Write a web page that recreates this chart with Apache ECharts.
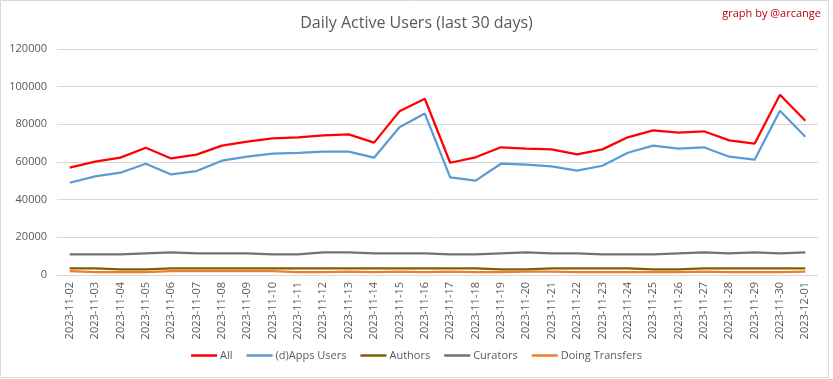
<!DOCTYPE html>
<html>
<head>
<meta charset="utf-8">
<script src="https://cdn.jsdelivr.net/npm/echarts@6/dist/echarts.min.js"></script>
<style>
html,body{margin:0;padding:0;background:#fff;}
#c{width:833px;height:379px;}
</style>
</head>
<body>
<div id="c"></div>
<script>
const categories = ["2023-11-02","2023-11-03","2023-11-04","2023-11-05","2023-11-06","2023-11-07","2023-11-08","2023-11-09","2023-11-10","2023-11-11","2023-11-12","2023-11-13","2023-11-14","2023-11-15","2023-11-16","2023-11-17","2023-11-18","2023-11-19","2023-11-20","2023-11-21","2023-11-22","2023-11-23","2023-11-24","2023-11-25","2023-11-26","2023-11-27","2023-11-28","2023-11-29","2023-11-30","2023-12-01"];
const allUsers = [57000,60200,62300,67600,61900,63900,68700,70800,72500,73100,74100,74700,70300,86900,93600,59600,62500,67800,67100,66700,64000,66700,73100,76800,75600,76300,71500,69700,95700,81900];
const appsUsers = [49000,52400,54300,59100,53400,55200,60700,62800,64400,64900,65500,65500,62300,78400,85700,51800,50100,59100,58600,57700,55400,58000,64900,68700,67100,67800,62800,61200,87200,73400];
const authors = [3500,3500,3000,3000,3500,3500,3500,3500,3500,3500,3500,3500,3500,3500,3500,3500,3500,3000,3000,3500,3500,3500,3500,3000,3000,3500,3500,3500,3500,3500];
const curators = [11000,11000,11000,11500,12000,11500,11500,11500,11000,11000,12000,12000,11500,11500,11500,11000,11000,11500,12000,11500,11500,11000,11000,11000,11500,12000,11500,12000,11500,12000];
const transfers = [2000,1500,1500,1500,2000,2000,2000,2000,2000,1500,1500,1800,1500,1800,1500,1800,1500,1500,1800,1800,1500,1500,1500,1500,1500,1800,1500,1500,1500,1800];
const yTicks = {min:0, max:120000, interval:20000};

const font = "'Open Sans', 'Liberation Sans', sans-serif";
const chart = echarts.init(document.getElementById('c'), null, {renderer:'canvas'});
function mk(name, data, color, w){
  return {name:name, type:'line', data:data, symbol:'none', smooth:false,
    lineStyle:{color:color, width:w}, itemStyle:{color:color}, animation:false};
}
chart.setOption({
  backgroundColor:'#ffffff',
  animation:false,
  graphic:[
    {type:'rect', shape:{x:0.5,y:0.5,width:828,height:377}, style:{fill:'none', stroke:'#d9d9d9', lineWidth:1}, silent:true},
    {type:'text', right:12, top:8, style:{text:'graph by @arcange', fill:'#c00000', font:"11px " + font}}
  ],
  title:{text:'Daily Active Users (last 30 days)', left:'center', top:10,
    textStyle:{fontFamily:font, fontSize:16, fontWeight:'normal', color:'#595959'}},
  grid:{left:57, right:15, top:49, bottom:104, containLabel:false},
  legend:{bottom:13, left:'center', icon:'rect', itemWidth:26, itemHeight:2.5, itemGap:14,
    textStyle:{fontFamily:font, fontSize:11, color:'#595959', padding:[0,0,0,-2]},
    data:['All','(d)Apps Users','Authors','Curators','Doing Transfers']},
  xAxis:{type:'category', data:categories, boundaryGap:true,
    axisLine:{show:true, lineStyle:{color:'#d9d9d9'}}, axisTick:{show:false},
    axisLabel:{rotate:90, fontFamily:font, fontSize:11, color:'#595959', margin:7, interval:0}},
  yAxis:{type:'value', min:yTicks.min, max:yTicks.max, interval:yTicks.interval,
    axisLine:{show:false}, axisTick:{show:false},
    axisLabel:{fontFamily:font, fontSize:11, color:'#595959', margin:10, formatter:function(v){return String(v);}},
    splitLine:{lineStyle:{color:'#d9d9d9', width:1}}},
  series:[
    mk('All', allUsers, '#ff0000', 2.25),
    mk('(d)Apps Users', appsUsers, '#5b9bd5', 2.25),
    mk('Authors', authors, '#7f6000', 2.25),
    mk('Curators', curators, '#767171', 2.25),
    mk('Doing Transfers', transfers, '#ed7d31', 2.25)
  ]
});
</script>
</body>
</html>
